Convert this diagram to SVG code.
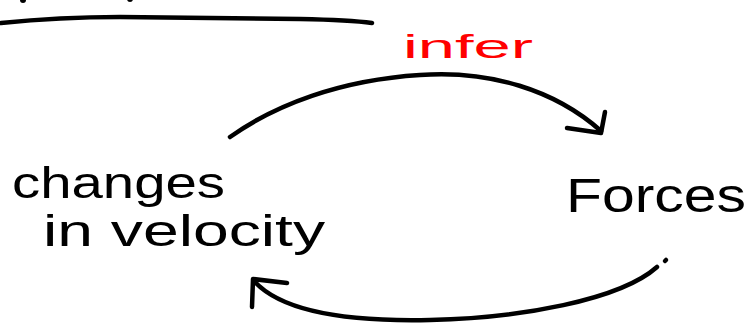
<svg xmlns="http://www.w3.org/2000/svg" width="751" height="323" viewBox="0 0 751 323">
<style>
.ink{fill:none;stroke:#000;stroke-width:4.5;stroke-linecap:round;stroke-linejoin:round}
.lbl{font-family:"Liberation Sans","DejaVu Sans",sans-serif;fill:#000}
.red{font-family:"Liberation Sans","DejaVu Sans",sans-serif;fill:#ff0000}
</style>
<rect width="751" height="323" fill="#ffffff"/>
<g id="top-rule">
<circle cx="23" cy="0" r="3" fill="#000"/>
<circle cx="130" cy="-1" r="3" fill="#000"/>
<path class="ink" d="M1,23 Q60,17 120,17 L300,19 Q350,20 372,23"/>
</g>
<g id="node-changes-in-velocity">
<text class="lbl" x="12" y="198" font-size="44" textLength="213" lengthAdjust="spacingAndGlyphs">changes</text>
<text class="lbl" x="43" y="246" font-size="44" textLength="282" lengthAdjust="spacingAndGlyphs">in velocity</text>
</g>
<g id="node-forces">
<text class="lbl" x="566" y="212" font-size="48" textLength="180" lengthAdjust="spacingAndGlyphs">Forces</text>
</g>
<g id="connectors">
<g id="edge-infer">
<path class="ink" d="M230,137 C275,105 340,80 420,75 C490,70 555,90 601,131"/>
<path class="ink" d="M605,112 L601,133 L567,128"/>
<text class="red" x="403" y="58" font-size="34" textLength="130" lengthAdjust="spacingAndGlyphs">infer</text>
</g>
<g id="edge-back">
<path class="ink" d="M665,261 L666,260"/>
<path class="ink" d="M657,267 C620,300 520,318 430,320 C340,322 280,310 254,281"/>
<path class="ink" d="M287,283 L253,279 L252,307"/>
</g>
</g>
</svg>
